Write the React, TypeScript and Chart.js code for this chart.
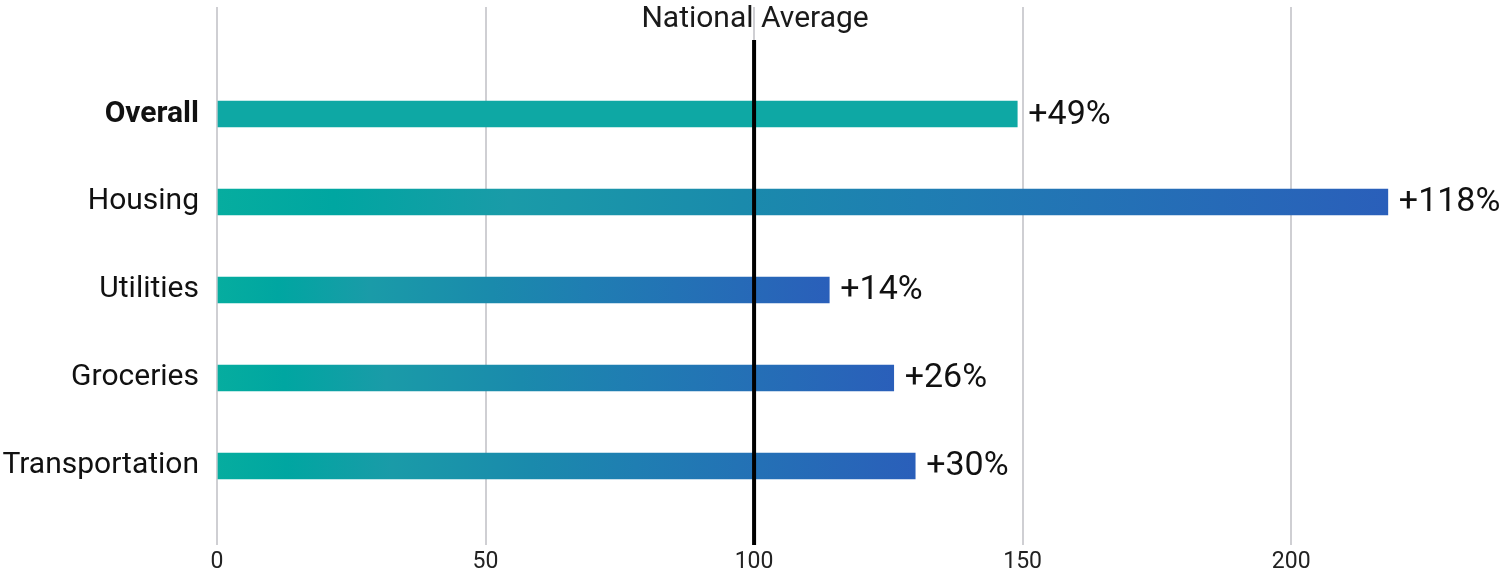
import React, { useEffect, useRef } from "react";
import { Chart, registerables } from "chart.js";

Chart.register(...registerables);

const categories = ["Overall", "Housing", "Utilities", "Groceries", "Transportation"];
const indexValues = [149, 218, 114, 126, 130];
const nationalAverage = 100;
const xTickValues = [0, 50, 100, 150, 200];
const xMin = 0;
const xMax = 240;
const yMin = -1.216;
const yMax = 4.898;
const avgLineTop = -0.841;

const valueLabelPlugin = {
  id: "valueLabels",
  afterDatasetsDraw(chart: any) {
    const { ctx, scales } = chart;
    const xs = scales.x;
    const ys = scales.y;
    ctx.save();
    ctx.fillStyle = "#111";
    ctx.font = "34px Roboto";
    ctx.textAlign = "left";
    ctx.textBaseline = "middle";
    indexValues.forEach((v, i) => {
      const diff = v - nationalAverage;
      const label = (diff >= 0 ? "+" : "") + diff + "%";
      ctx.fillText(label, xs.getPixelForValue(v) + 11, ys.getPixelForValue(i) + 1);
    });
    ctx.font = "30px Roboto";
    ctx.textAlign = "center";
    ctx.fillStyle = "#1a1a1a";
    ctx.fillText("National Average", xs.getPixelForValue(nationalAverage) + 1, 19);
    ctx.restore();
  },
};

export default function App() {
  const ref = useRef<HTMLCanvasElement>(null);
  useEffect(() => {
    document.body.style.margin = "0";
    const canvas = ref.current!;
    Chart.defaults.font.family = "Roboto";
    const chart = new Chart(canvas, {
      type: "bar",
      data: {
        datasets: [
          {
            type: "line",
            data: [
              { x: nationalAverage, y: avgLineTop },
              { x: nationalAverage, y: yMax },
            ],
            borderColor: "#000",
            borderWidth: 4,
            pointRadius: 0,
            fill: false,
          } as any,
          {
            type: "bar",
            data: indexValues.map((v, i) => ({ x: v, y: i })),
            barThickness: 26,
            borderWidth: 0,
            backgroundColor: (c: any) => {
              const chart = c.chart;
              const i = c.dataIndex;
              if (i === 0) return "#0ea8a4";
              const area = chart.chartArea;
              const xs = chart.scales.x;
              if (!area || !xs || i === undefined) return "#1a8aae";
              const x0 = xs.getPixelForValue(0);
              const x1 = xs.getPixelForValue(indexValues[i]);
              const g = chart.ctx.createLinearGradient(x0, 0, x1, 0);
              g.addColorStop(0, "#06ad9f");
              g.addColorStop(0.1, "#00a6a1");
              g.addColorStop(0.25, "#1a9ba8");
              g.addColorStop(0.45, "#1a8aac");
              g.addColorStop(0.6, "#1f7eb2");
              g.addColorStop(1, "#2a5fba");
              return g;
            },
          } as any,
        ],
      },
      options: {
        indexAxis: "y",
        responsive: false,
        animation: false,
        layout: { padding: { top: 7, left: 0, right: 0, bottom: 0 } },
        plugins: {
          legend: { display: false },
          tooltip: { enabled: false },
        },
        scales: {
          x: {
            type: "linear",
            min: xMin,
            max: xMax,
            afterBuildTicks: (s: any) => {
              s.ticks = xTickValues.map((v) => ({ value: v }));
            },
            afterFit: (s: any) => {
              s.height = 32;
              s.paddingLeft = 0;
              s.paddingRight = 0;
            },
            grid: { color: "#cfcfd3", lineWidth: 2, drawTicks: false },
            border: { display: false },
            ticks: { color: "#222", font: { size: 23 }, padding: 3 },
          },
          y: {
            type: "linear",
            reverse: true,
            offset: false,
            min: yMin,
            max: yMax,
            afterBuildTicks: (s: any) => {
              s.ticks = categories.map((_, i) => ({ value: i }));
            },
            afterFit: (s: any) => {
              s.width = 217;
              s.paddingTop = 0;
              s.paddingBottom = 0;
            },
            grid: { display: false, drawTicks: false, offset: false },
            border: { display: false },
            ticks: {
              color: "#111",
              padding: 18,
              callback: (v: any) => categories[Math.round(Number(v))] ?? "",
              font: (c: any) =>
                c.index === 0 ? { size: 30, weight: "bold" } : { size: 30, weight: "normal" },
            },
          },
        },
      },
      plugins: [valueLabelPlugin],
    });
    return () => chart.destroy();
  }, []);
  return (
    <div style={{ width: 1506, height: 577 }}>
      <canvas ref={ref} width={1506} height={577} style={{ display: "block" }} />
    </div>
  );
}
